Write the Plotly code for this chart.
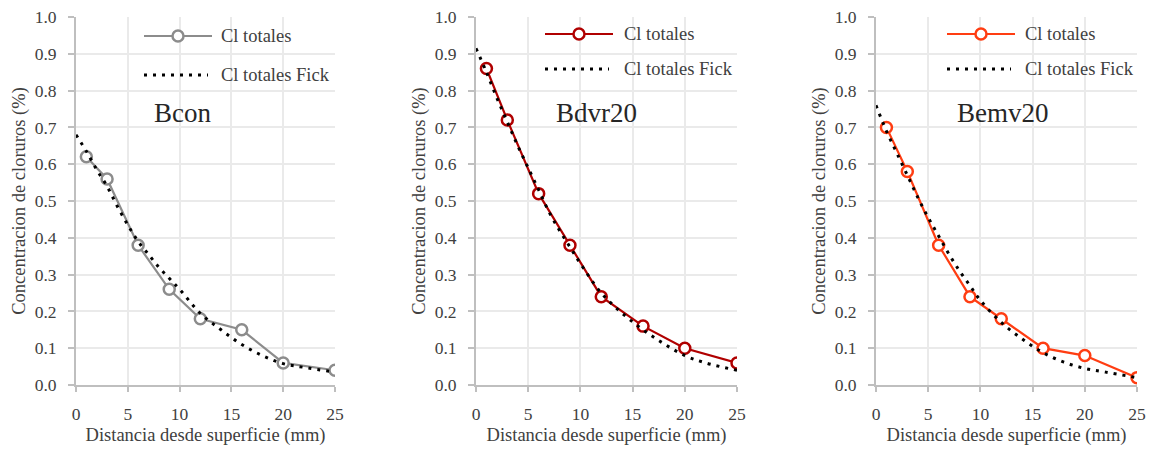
import plotly.graph_objects as go

# Chloride profiles: measured totals and Fick fitted curve for three mixes
distancia = [1, 3, 6, 9, 12, 16, 20, 25]

bcon_cl = [0.62, 0.56, 0.38, 0.26, 0.18, 0.15, 0.06, 0.04]
bdvr20_cl = [0.86, 0.72, 0.52, 0.38, 0.24, 0.16, 0.10, 0.06]
bemv20_cl = [0.70, 0.58, 0.38, 0.24, 0.18, 0.10, 0.08, 0.02]

fick_x = [0, 1, 2, 3, 4, 5, 6, 7, 8, 9, 10, 12, 14, 16, 18, 20, 22, 25]
bcon_fick = [0.68, 0.635, 0.585, 0.54, 0.485, 0.435, 0.39, 0.355, 0.32, 0.29,
             0.26, 0.195, 0.15, 0.11, 0.08, 0.058, 0.048, 0.035]
bdvr20_fick = [0.915, 0.85, 0.78, 0.715, 0.65, 0.59, 0.53, 0.47, 0.42, 0.375,
               0.33, 0.25, 0.195, 0.15, 0.112, 0.08, 0.06, 0.04]
bemv20_fick = [0.76, 0.69, 0.63, 0.57, 0.51, 0.455, 0.405, 0.355, 0.31, 0.27,
               0.23, 0.17, 0.125, 0.088, 0.062, 0.045, 0.035, 0.02]

mezclas = ["Bcon", "Bdvr20", "Bemv20"]
medidos = [bcon_cl, bdvr20_cl, bemv20_cl]
ajustes = [bcon_fick, bdvr20_fick, bemv20_fick]
colores = ["#8C8C8C", "#B00000", "#FF3D12"]
serie_medida = "Cl totales"
serie_fick = "Cl totales Fick"

x_ticks = [0, 5, 10, 15, 20, 25]
y_ticks = [0.0, 0.1, 0.2, 0.3, 0.4, 0.5, 0.6, 0.7, 0.8, 0.9, 1.0]

FONT = "Liberation Serif"
TXT = "#404040"
W, H = 1149, 451
x_domains = [[76 / W, 335 / W], [476 / W, 737 / W], [876 / W, 1137 / W]]
y_domain = [1 - 385 / H, 1 - 17 / H]

# legend key geometry per panel (pixels): sample start/end, text start, row centres
leyenda = [
    dict(x0=144, x1=212, xt=219, r1=36, r2=75),
    dict(x0=545, x1=613, xt=622, r1=34, r2=69),
    dict(x0=947, x1=1015, xt=1023, r1=34, r2=69),
]


def px(v):
    return v / W


def py(v):
    return 1 - v / H


fig = go.Figure()
layout = dict(
    width=W, height=H,
    margin=dict(l=0, r=0, t=0, b=0, autoexpand=False),
    paper_bgcolor="white", plot_bgcolor="white",
    font=dict(family=FONT, size=18, color=TXT),
    showlegend=False,
    annotations=[], shapes=[],
)

for i, (nombre, med, aj, col) in enumerate(zip(mezclas, medidos, ajustes, colores)):
    sfx = "" if i == 0 else str(i + 1)
    fig.add_trace(go.Scatter(
        x=distancia, y=med, mode="lines+markers", name=serie_medida,
        xaxis="x" + sfx, yaxis="y" + sfx,
        line=dict(color=col, width=2.2),
        marker=dict(symbol="circle", size=11, color="white",
                    line=dict(color=col, width=2.5)),
    ))
    fig.add_trace(go.Scatter(
        x=fick_x, y=aj, mode="lines", name=serie_fick,
        xaxis="x" + sfx, yaxis="y" + sfx,
        line=dict(color="black", width=3, dash="3px,6px", shape="spline"),
    ))
    layout["xaxis" + sfx] = dict(
        domain=x_domains[i], range=[0, 25], anchor="y" + sfx,
        automargin=False,
        tickvals=x_ticks, ticktext=[str(v) for v in x_ticks],
        showgrid=True, gridcolor="#EAEAEA", gridwidth=1.5,
        showline=True, linecolor="#BFBFBF", linewidth=2,
        ticks="outside", ticklen=5, tickwidth=2, tickcolor="#BFBFBF",
        ticklabelstandoff=7,
        tickfont=dict(family=FONT, size=17.5, color=TXT),
        zeroline=False,
        title=dict(text="Distancia desde superficie (mm)", standoff=5,
                   font=dict(family=FONT, size=18.5, color=TXT)),
    )
    layout["yaxis" + sfx] = dict(
        domain=y_domain, range=[0, 1], anchor="x" + sfx,
        automargin=False,
        tickvals=y_ticks, ticktext=[f"{v:.1f}" for v in y_ticks],
        showgrid=True, gridcolor="#EAEAEA", gridwidth=1.5,
        showline=True, linecolor="#BFBFBF", linewidth=2,
        ticks="outside", ticklen=6, tickwidth=2, tickcolor="#BFBFBF",
        ticklabelstandoff=8,
        tickfont=dict(family=FONT, size=17.5, color=TXT),
        zeroline=False,
        title=dict(text="Concentracion de cloruros (%)", standoff=4,
                   font=dict(family=FONT, size=18.5, color=TXT)),
    )
    layout["annotations"].append(dict(
        text=nombre, xref="x" + sfx + " domain", yref="y" + sfx + " domain",
        x=[0.41, 0.46, 0.485][i], y=0.74, showarrow=False,
        xanchor="center", yanchor="middle",
        font=dict(family=FONT, size=27, color="#262626"),
    ))

    # legend keys drawn inside each panel
    lg = leyenda[i]
    layout["shapes"].append(dict(
        type="line", xref="paper", yref="paper",
        x0=px(lg["x0"]), x1=px(lg["x1"]), y0=py(lg["r1"]), y1=py(lg["r1"]),
        line=dict(color=col, width=2.2),
    ))
    layout["shapes"].append(dict(
        type="circle", xref="paper", yref="paper",
        xsizemode="pixel", ysizemode="pixel",
        xanchor=px((lg["x0"] + lg["x1"]) / 2), yanchor=py(lg["r1"]),
        x0=-5.5, x1=5.5, y0=-5.5, y1=5.5,
        fillcolor="white", line=dict(color=col, width=2.5),
    ))
    layout["shapes"].append(dict(
        type="line", xref="paper", yref="paper",
        x0=px(lg["x0"]), x1=px(lg["x1"] - 4), y0=py(lg["r2"]), y1=py(lg["r2"]),
        line=dict(color="black", width=3, dash="3px,6px"),
    ))
    for texto, fila in ((serie_medida, lg["r1"]), (serie_fick, lg["r2"])):
        layout["annotations"].append(dict(
            text=texto, xref="paper", yref="paper",
            x=px(lg["xt"]), y=py(fila), xanchor="left", yanchor="middle",
            showarrow=False, font=dict(family=FONT, size=18.5, color=TXT),
        ))

fig.update_layout(**layout)
fig.write_html("out.html")
